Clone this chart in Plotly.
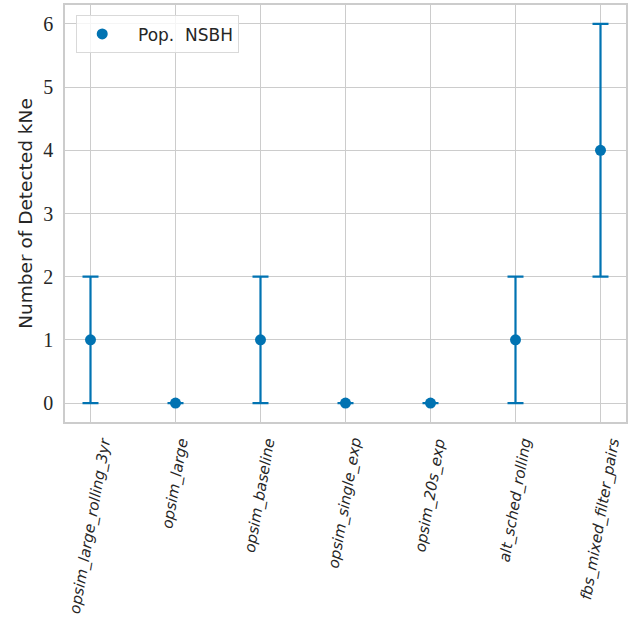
import plotly.graph_objects as go

categories = ["opsim_large_rolling_3yr", "opsim_large", "opsim_baseline",
              "opsim_single_exp", "opsim_20s_exp", "alt_sched_rolling",
              "fbs_mixed_filter_pairs"]
values = [1, 0, 1, 0, 0, 1, 4]
err_plus = [1, 0, 1, 0, 0, 1, 2]
err_minus = [1, 0, 1, 0, 0, 1, 2]
yticks = [0, 1, 2, 3, 4, 5, 6]

color = "#0173b2"
xpos = list(range(len(categories)))

fig = go.Figure()
fig.add_trace(go.Scatter(
    x=xpos, y=values, mode="markers", name="&nbsp;&nbsp;Pop.&nbsp;&nbsp;NSBH",
    marker=dict(color=color, size=11),
    error_y=dict(type="data", array=err_plus, arrayminus=err_minus,
                 color=color, thickness=2.2, width=8, visible=True),
))

# category labels rotated 80 degrees, centred under each tick (matplotlib style)
for xi, c in zip(xpos, categories):
    fig.add_annotation(
        x=xi, xref="x", y=0, yref="paper", text="<i>" + c + "</i>",
        textangle=-80, xanchor="center", yanchor="top", showarrow=False,
        yshift=-14, borderpad=0,
        font=dict(family="DejaVu Sans", size=15, color="#262626"),
    )

fig.update_layout(
    width=635, height=618,
    margin=dict(l=65, r=9, t=5, b=196),
    paper_bgcolor="white", plot_bgcolor="white",
    showlegend=True,
    legend=dict(x=0.02, y=0.975, xanchor="left", yanchor="top",
                bgcolor="rgba(255,255,255,0.8)", bordercolor="#d9d9d9",
                borderwidth=1, itemwidth=40,
                font=dict(family="DejaVu Sans", size=17, color="#262626")),
)
fig.update_xaxes(
    range=[-0.3, 6.3], tickmode="array", tickvals=xpos,
    showticklabels=False,
    showgrid=True, gridcolor="#cccccc", gridwidth=1,
    showline=True, linecolor="#cccccc", linewidth=1.5, mirror=True,
    zeroline=False, ticks="", automargin=False,
)
fig.update_yaxes(
    range=[-0.3, 6.3], tickmode="array", tickvals=yticks,
    ticktext=[str(t) for t in yticks],
    tickfont=dict(family="Liberation Serif", size=20, color="#262626"),
    ticklabelstandoff=6,
    title=dict(text="Number of Detected kNe", font=dict(family="DejaVu Sans", size=18.5, color="#262626"), standoff=6),
    showgrid=True, gridcolor="#cccccc", gridwidth=1,
    showline=True, linecolor="#cccccc", linewidth=1.5, mirror=True,
    zeroline=False, ticks="", automargin=False,
)

fig.write_html("out.html", config={"displayModeBar": False},
               post_script="document.body.style.margin='0';")
